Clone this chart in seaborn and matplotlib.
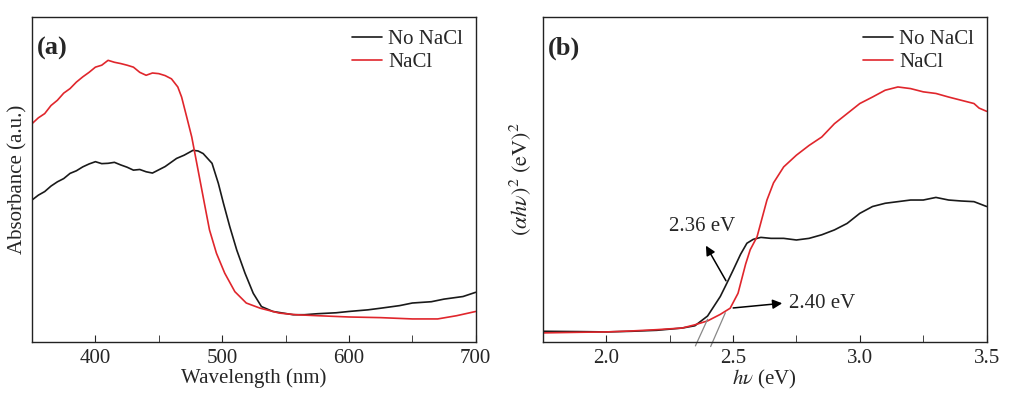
import numpy as np
import pandas as pd
import matplotlib
matplotlib.use("Agg")
import matplotlib.pyplot as plt
import seaborn as sns

# panel (a): absorbance spectra
wl_black = [350, 355, 360, 365, 370, 375, 380, 385, 390, 395, 400, 405, 410, 415, 420, 425,
            430, 435, 440, 445, 450, 455, 464, 470, 477, 481, 485, 492, 497, 501, 506,
            511.5, 518, 524.5, 531, 540, 556, 565, 575, 590, 600, 615, 625, 640, 650, 665,
            675, 690, 700]
abs_black = [0.437, 0.452, 0.463, 0.480, 0.493, 0.503, 0.519, 0.527, 0.539, 0.548, 0.555, 0.549,
             0.550, 0.553, 0.545, 0.538, 0.529, 0.531, 0.524, 0.520, 0.530, 0.540, 0.565,
             0.575, 0.590, 0.588, 0.580, 0.550, 0.488, 0.427, 0.355, 0.283, 0.212, 0.150,
             0.109, 0.094, 0.084, 0.084, 0.087, 0.090, 0.094, 0.099, 0.104, 0.112,
             0.120, 0.124, 0.132, 0.140, 0.153]
wl_red = [350, 355, 360, 365, 370, 375, 380, 385, 390, 395, 400, 405, 410, 415, 420, 425,
          430, 435, 440, 445, 450, 455, 460, 465, 468, 472, 476, 478.5, 482.5, 486.5, 490,
          495.5, 502, 510, 519, 530, 545, 558, 575, 600, 625, 650, 670, 685, 700]
abs_red = [0.672, 0.690, 0.703, 0.728, 0.744, 0.766, 0.780, 0.800, 0.816, 0.830, 0.846, 0.852,
           0.867, 0.861, 0.857, 0.852, 0.846, 0.830, 0.821, 0.828, 0.826, 0.820, 0.810, 0.785,
           0.754, 0.693, 0.631, 0.580, 0.498, 0.416, 0.345, 0.273, 0.212, 0.155, 0.120,
           0.104, 0.089, 0.084, 0.081, 0.077, 0.075, 0.071, 0.071, 0.081, 0.094]

# panel (b): Tauc plot
ev_black = [1.75, 1.9, 2.0, 2.1, 2.2, 2.3, 2.35, 2.4, 2.45, 2.476, 2.5, 2.53, 2.555, 2.58,
            2.61, 2.65, 2.7, 2.75, 2.8, 2.85, 2.9, 2.95, 3.0, 3.05, 3.1, 3.15, 3.2, 3.25,
            3.3, 3.35, 3.4, 3.45, 3.5]
tauc_black = [0.033, 0.032, 0.031, 0.033, 0.036, 0.043, 0.050, 0.080, 0.140, 0.181, 0.220,
              0.270, 0.304, 0.316, 0.322, 0.319, 0.319, 0.314, 0.319, 0.330, 0.345, 0.365,
              0.396, 0.417, 0.427, 0.432, 0.437, 0.437, 0.445, 0.437, 0.434, 0.432, 0.417]
ev_red = [1.75, 1.9, 2.0, 2.1, 2.2, 2.3, 2.35, 2.4, 2.45, 2.489, 2.52, 2.55, 2.568, 2.595,
          2.634, 2.66, 2.7, 2.75, 2.8, 2.85, 2.9, 2.95, 3.0, 3.05, 3.1, 3.15, 3.2, 3.25,
          3.3, 3.35, 3.4, 3.45, 3.47, 3.5]
tauc_red = [0.028, 0.030, 0.031, 0.034, 0.038, 0.043, 0.053, 0.065, 0.085, 0.104, 0.150,
            0.240, 0.284, 0.324, 0.437, 0.490, 0.539, 0.575, 0.605, 0.631, 0.672, 0.703,
            0.734, 0.754, 0.775, 0.785, 0.780, 0.770, 0.765, 0.754, 0.744, 0.734, 0.720, 0.710]

series_names = ["No NaCl", "NaCl"]
palette = {"No NaCl": "#1a1a1a", "NaCl": "#e0262c"}

df_a = pd.concat([
    pd.DataFrame({"x": wl_black, "y": abs_black, "sample": "No NaCl"}),
    pd.DataFrame({"x": wl_red, "y": abs_red, "sample": "NaCl"}),
])
df_b = pd.concat([
    pd.DataFrame({"x": ev_black, "y": tauc_black, "sample": "No NaCl"}),
    pd.DataFrame({"x": ev_red, "y": tauc_red, "sample": "NaCl"}),
])

sns.set_style("ticks")
plt.rcParams['font.family'] = ['Liberation Serif', 'DejaVu Serif']
plt.rcParams['mathtext.fontset'] = 'stix'
fs = 15

fig = plt.figure(figsize=(10.1, 3.98), dpi=100)
ax1 = fig.add_axes([0.0317, 0.1407, 0.4393, 0.8163])
ax2 = fig.add_axes([0.5373, 0.1407, 0.4396, 0.8163])

for ax, df in [(ax1, df_a), (ax2, df_b)]:
    sns.lineplot(data=df, x="x", y="y", hue="sample", hue_order=series_names,
                 palette=palette, lw=1.2, sort=False, estimator=None, ax=ax)
    ax.set_ylim(0, 1)
    ax.set_yticks([])
    ax.tick_params(axis='x', which='both', direction='in', labelsize=fs, pad=5)
    ax.tick_params(axis='x', which='major', length=5)
    ax.tick_params(axis='x', which='minor', length=5)
    for s in ax.spines.values():
        s.set_linewidth(1.0)
        s.set_color('#222222')
    leg = ax.legend(loc='upper right', frameon=False, fontsize=fs, handlelength=1.45,
                    handletextpad=0.3, borderaxespad=0.2, labelspacing=0.15)

ax1.set_xlim(350, 700)
ax1.set_xticks([400, 500, 600, 700])
ax1.set_xticks([450, 550, 650], minor=True)
ax1.set_xlabel("Wavelength (nm)", fontsize=fs, labelpad=0)
ax1.set_ylabel("Absorbance (a.u.)", fontsize=fs, labelpad=3)
ax1.text(0.012, 0.94, "(a)", transform=ax1.transAxes, fontsize=19, fontweight='bold',
         va='top', ha='left')

ax2.set_xlim(1.75, 3.5)
ax2.set_xticks([2.0, 2.5, 3.0, 3.5])
ax2.set_xticks([2.25, 2.75, 3.25], minor=True)
ax2.set_xlabel(r"$h\nu$ (eV)", fontsize=fs, labelpad=0)
ax2.set_ylabel(r"$(\alpha h\nu)^2\ (\mathrm{eV})^2$", fontsize=16, labelpad=7)
ax2.text(0.012, 0.94, "(b)", transform=ax2.transAxes, fontsize=19, fontweight='bold',
         va='top', ha='left')

# tangent lines for band gap estimate
tan_x1 = [2.352, 2.40]
tan_y1 = [-0.012, 0.07]
tan_x2 = [2.412, 2.47]
tan_y2 = [-0.014, 0.09]
ax2.plot(tan_x1, tan_y1, color='#888888', lw=0.9, clip_on=False)
ax2.plot(tan_x2, tan_y2, color='#888888', lw=0.9, clip_on=False)

arrow = dict(arrowstyle='-|>', color='black', lw=1.1, mutation_scale=14)
ax2.annotate("", xy=(2.388, 0.304), xytext=(2.478, 0.181), arrowprops=arrow)
ax2.text(2.38, 0.355, "2.36 eV", fontsize=fs, ha='center', va='center')
ax2.annotate("", xy=(2.705, 0.12), xytext=(2.49, 0.104), arrowprops=arrow)
ax2.text(2.72, 0.12, "2.40 eV", fontsize=fs, ha='left', va='center')

fig.savefig("out.png", dpi=100)
